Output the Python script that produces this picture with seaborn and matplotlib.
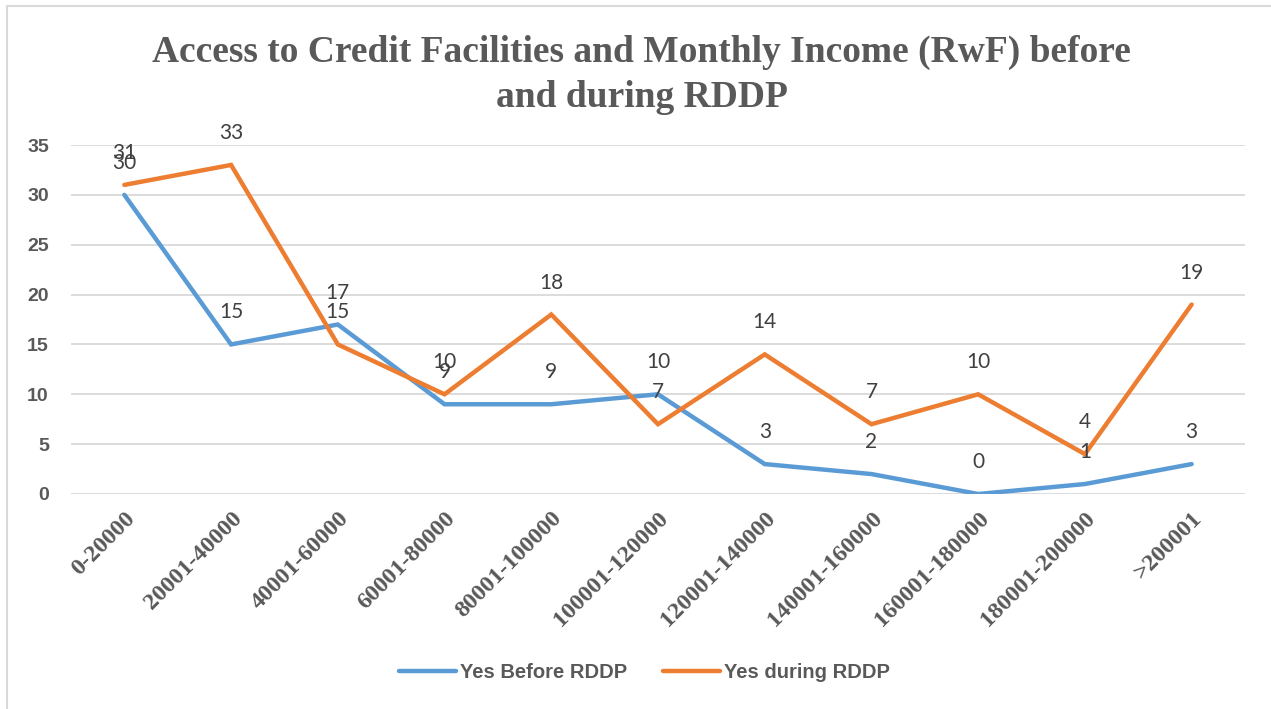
import matplotlib
matplotlib.use("Agg")
import matplotlib.pyplot as plt
import matplotlib.patches as mpatches
import pandas as pd
import seaborn as sns

categories = ["0-20000", "20001-40000", "40001-60000", "60001-80000", "80001-100000",
              "100001-120000", "120001-140000", "140001-160000", "160001-180000",
              "180001-200000", ">200001"]
before_rddp = [30, 15, 17, 9, 9, 10, 3, 2, 0, 1, 3]
during_rddp = [31, 33, 15, 10, 18, 7, 14, 7, 10, 4, 19]
series_names = ["Yes Before RDDP", "Yes during RDDP"]
colors = ["#5B9BD5", "#ED7D31"]
y_ticks = [0, 5, 10, 15, 20, 25, 30, 35]

GRAY = "#595959"

df = pd.DataFrame({
    "income": categories * 2,
    "pos": list(range(len(categories))) * 2,
    "count": before_rddp + during_rddp,
    "series": [series_names[0]] * len(categories) + [series_names[1]] * len(categories),
})

sns.set_style("white")
fig = plt.figure(figsize=(12.71, 7.09), dpi=100)
ax = fig.add_axes([71 / 1271, 1 - 494 / 709, (1245 - 71) / 1271, (494 - 145) / 709])

sns.lineplot(data=df, x="pos", y="count", hue="series", palette=colors,
             linewidth=3.2, ax=ax, legend=False, sort=False)
for line in ax.lines:
    line.set_solid_capstyle("round")
    line.set_solid_joinstyle("miter")

# data labels above each point
for vals in (before_rddp, during_rddp):
    for i, v in enumerate(vals):
        ax.annotate(str(v), (i, v), textcoords="offset points", xytext=(0, 23),
                    ha="center", va="center", fontsize=15, color="#404040",
                    family="Lato")

ax.set_xlim(-0.5, len(categories) - 0.5)
ax.set_ylim(0, 35)
ax.set_yticks(y_ticks, labels=[str(t) for t in y_ticks], fontsize=14,
              fontweight="bold", family="Liberation Sans", color=GRAY)
ax.yaxis.grid(True, color="#D9D9D9", linewidth=1.3)
ax.set_axisbelow(True)
for s in ax.spines.values():
    s.set_visible(False)
ax.set_xlabel("")
ax.set_ylabel("")
ax.set_xticks(range(len(categories)), labels=categories, rotation=45, ha="right",
              rotation_mode="anchor", fontsize=17.5, fontweight="bold",
              family="Liberation Serif", color=GRAY)
ax.tick_params(axis="x", length=0, pad=10)
ax.tick_params(axis="y", length=0, pad=16)

fig.text(0.505, 1 - 75 / 709,
         "Access to Credit Facilities and Monthly Income (RwF) before\nand during RDDP",
         ha="center", va="center", fontsize=27, fontweight="bold",
         family="Liberation Serif", color=GRAY, linespacing=1.35)

handles = [plt.Line2D([], [], color=c, linewidth=3.2, solid_capstyle="round") for c in colors]
fig.legend(handles, series_names, loc="center", bbox_to_anchor=(0.507, 1 - 673 / 709),
           ncol=2, frameon=False, handlelength=2.8, handletextpad=0.2, columnspacing=1.8,
           prop={"family": "Liberation Sans", "weight": "bold", "size": 14.5},
           labelcolor=GRAY)

# chart border (only top and left edges visible in the original crop)
fig.patches.append(mpatches.Rectangle((7 / 1271, -0.1), 1.2, 1.1 - 6 / 709,
                                      transform=fig.transFigure, fill=False,
                                      edgecolor="#D9D9D9", linewidth=1.5))

fig.savefig("out.png", dpi=100)
